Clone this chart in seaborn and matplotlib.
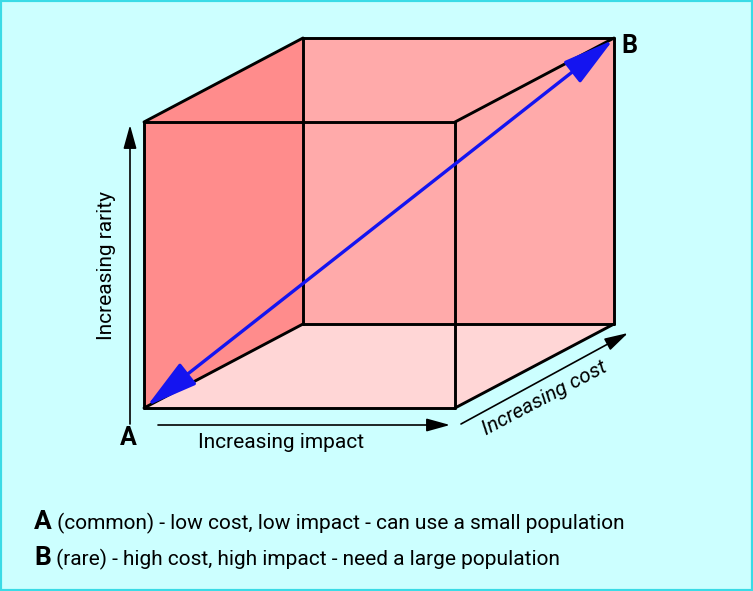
import numpy as np
import pandas as pd
import matplotlib
matplotlib.use("Agg")
import matplotlib.pyplot as plt
import seaborn as sns

# cube geometry (pixels of the drawing): corner A and the three edge vectors
origin = (144, 408)
impact_vec = (311, 0)
rarity_vec = (0, -286)
cost_vec = (159, -84)

face_colors = {"back": "#ffaaaa", "left": "#ff8c8c", "bottom": "#ffd6d6"}
corner_labels = ["A", "B"]
axis_labels = ["Increasing rarity", "Increasing impact", "Increasing cost"]
notes_bold = ["A", "B"]
notes_text = [" (common) - low cost, low impact - can use a small population",
              " (rare) - high cost, high impact - need a large population"]

bg = "#ccffff"
border = "#3adbe6"

sns.set_theme(style="white")
plt.rcParams["font.family"] = ["Roboto", "DejaVu Sans"]
plt.rcParams["text.color"] = "black"


def vtx(i, r, c):
    return (origin[0] + i * impact_vec[0] + r * rarity_vec[0] + c * cost_vec[0],
            origin[1] + i * impact_vec[1] + r * rarity_vec[1] + c * cost_vec[1])


fig = plt.figure(figsize=(7.53, 5.91), dpi=100, facecolor=bg)
ax = fig.add_axes([0, 0, 1, 1])
ax.set_facecolor(bg)

faces = {
    "back": [(0, 0, 1), (1, 0, 1), (1, 1, 1), (0, 1, 1)],
    "left": [(0, 0, 0), (0, 1, 0), (0, 1, 1), (0, 0, 1)],
    "bottom": [(0, 0, 0), (1, 0, 0), (1, 0, 1), (0, 0, 1)],
}
for name, pts in faces.items():
    xy = np.array([vtx(*p) for p in pts])
    ax.fill(xy[:, 0], xy[:, 1], color=face_colors[name], lw=0, zorder=1)

# the twelve edges
rows = []
k = 0
for a in range(2):
    for b in range(2):
        for axis in range(3):
            others = [d for d in range(3) if d != axis]
            for t in range(2):
                p = [0, 0, 0]
                p[others[0]] = a
                p[others[1]] = b
                p[axis] = t
                x, y = vtx(*p)
                rows.append({"edge": k, "x": x, "y": y})
            k += 1
edges = pd.DataFrame(rows)
sns.lineplot(data=edges, x="x", y="y", units="edge", estimator=None, sort=False,
             color="black", lw=2.1, ax=ax, zorder=3, legend=False)
ax.set_xlim(0, 753)
ax.set_ylim(591, 0)
ax.axis("off")

# blue diagonal A <-> B
a_pt = vtx(0, 0, 0)
b_pt = vtx(1, 1, 1)
ax.annotate("", xy=(b_pt[0] - 1, b_pt[1] + 2), xytext=(a_pt[0] + 3, a_pt[1] - 2),
            arrowprops=dict(arrowstyle="<|-|>,head_length=1.6,head_width=0.42",
                            mutation_scale=20, color="#1414f0", lw=2.4,
                            shrinkA=0, shrinkB=0), zorder=4)

# axis arrows
arrow_kw = dict(arrowstyle="-|>,head_length=0.9,head_width=0.25", mutation_scale=16,
                color="black", lw=1.2, shrinkA=0, shrinkB=0)
ax.annotate("", xy=(130, 125), xytext=(130, 424), arrowprops=arrow_kw)
ax.annotate("", xy=(450, 425), xytext=(158, 425), arrowprops=arrow_kw)
ax.annotate("", xy=(628, 333), xytext=(461, 424), arrowprops=arrow_kw)

ax.text(128, 438, corner_labels[0], fontsize=18, fontweight="bold", ha="center", va="center")
ax.text(629, 46, corner_labels[1], fontsize=18, fontweight="bold", ha="center", va="center")

ax.text(107, 266, axis_labels[0], fontsize=15, rotation=90, ha="center", va="center")
ax.text(281, 443, axis_labels[1], fontsize=15, ha="center", va="center")
ang = np.degrees(np.arctan2(-cost_vec[1], cost_vec[0]))
ax.text(545, 398, axis_labels[2], fontsize=15, rotation=ang, style="italic",
        ha="center", va="center", rotation_mode="anchor")

for i, (bold, txt) in enumerate(zip(notes_bold, notes_text)):
    y = 529 + 36 * i
    t = ax.text(34, y, bold, fontsize=19, fontweight="bold", ha="left", va="baseline")
    ax.annotate(txt, xy=(1, y), xycoords=(t, "data"), fontsize=15,
                ha="left", va="baseline")

fig.patches.append(plt.Rectangle((0, 0), 1, 1, transform=fig.transFigure, fill=False,
                                 edgecolor=border, lw=3, zorder=10))
fig.savefig("out.png", dpi=100, facecolor=bg)
